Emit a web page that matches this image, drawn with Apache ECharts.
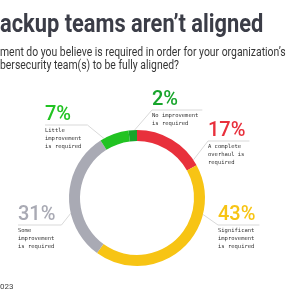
<!DOCTYPE html>
<html>
<head>
<meta charset="utf-8">
<script src="https://cdn.jsdelivr.net/npm/echarts@6/dist/echarts.min.js"></script>
<style>
  html, body { margin: 0; padding: 0; background: #fff; }
  #chart { width: 300px; height: 300px; }
</style>
</head>
<body>
<div id="chart"></div>
<script>
// answers, clockwise from 12 o'clock
const answers = ['A complete overhaul is required', 'Significant improvement is required', 'Some improvement is required', 'Little improvement is required', 'No improvement is required']
const shares = [17, 43, 31, 7, 2]
const answerLines = [
  ['A complete', 'overhaul is', 'required'],
  ['Significant', 'improvement', 'is required'],
  ['Some', 'improvement', 'is required'],
  ['Little', 'improvement', 'is required'],
  ['No improvement', 'is required']
]

const palette = ['#e8303c', '#f7c414', '#a9aab4', '#21c322', '#17a52b']

// donut geometry
const cx = 137
const cy = 198
const rOuter = 68
const rInner = 57

// where each callout sits (top-left) and where its leader leaves the ring (deg, clockwise from top)
const callouts = [
  { x: 208, y: 120, angle: 56 },
  { x: 218, y: 204, angle: 104 },
  { x: 18, y: 204, angle: 257 },
  { x: 45, y: 104, angle: 331 },
  { x: 152, y: 89, angle: 358 }
]

const chart = echarts.init(document.getElementById('chart'), null, { renderer: 'canvas' })

chart.setOption({
  animation: false,
  color: palette,
  graphic: [
    {
      type: 'text',
      x: 0,
      y: 12,
      scaleX: 0.84,
      style: {
        text: 'ackup teams aren\u2019t aligned',
        font: 'bold 26px Roboto',
        fill: '#3b3d47',
        align: 'left',
        verticalAlign: 'top'
      }
    },
    {
      type: 'text',
      x: 0,
      y: 46,
      scaleX: 0.8,
      style: {
        text: 'ment do you believe is required in order for your organization\u2019s\nbersecurity team(s) to be fully aligned?',
        font: '13px Roboto',
        lineHeight: 13,
        fill: '#363636',
        align: 'left',
        verticalAlign: 'top'
      }
    },
    {
      type: 'text',
      x: 0,
      y: 283,
      style: {
        text: '023',
        font: '8px Roboto',
        fill: '#444',
        align: 'left',
        verticalAlign: 'top'
      }
    }
  ],
  series: [
    {
      type: 'pie',
      center: [cx, cy],
      radius: [rInner, rOuter],
      startAngle: 90,
      clockwise: true,
      avoidLabelOverlap: false,
      silent: true,
      data: answers.map((name, i) => ({ name: name, value: shares[i] })),
      label: {
        show: true,
        position: 'outside',
        color: 'inherit',
        formatter: function(p) {
          const lines = answerLines[p.dataIndex].map(t => '{d|' + t + '}')
          return '{p|' + shares[p.dataIndex] + '%}\n' + lines.join('\n')
        },
        rich: {
          p: {
            fontFamily: 'Roboto',
            fontWeight: 500,
            fontSize: 20,
            lineHeight: 22
          },
          d: {
            fontFamily: 'DejaVu Sans Mono',
            fontSize: 5.5,
            lineHeight: 8.3,
            color: '#333'
          }
        }
      },
      labelLine: {
        show: true,
        lineStyle: {
          color: '#d9d9d9',
          width: 1
        }
      },
      labelLayout: function(params) {
        const c = callouts[params.dataIndex]
        const w = params.labelRect.width
        const lineY = c.y + 21
        const a = c.angle * Math.PI / 180
        const start = [cx + rOuter * Math.sin(a), cy - rOuter * Math.cos(a)]
        const onRight = c.x > cx
        const near = onRight ? c.x : c.x + w + 6
        const far = onRight ? c.x + w + 4 : c.x
        return {
          x: c.x,
          y: c.y,
          align: 'left',
          verticalAlign: 'top',
          labelLinePoints: [start, [near, lineY], [far, lineY]]
        }
      }
    }
  ]
})
</script>
</body>
</html>
